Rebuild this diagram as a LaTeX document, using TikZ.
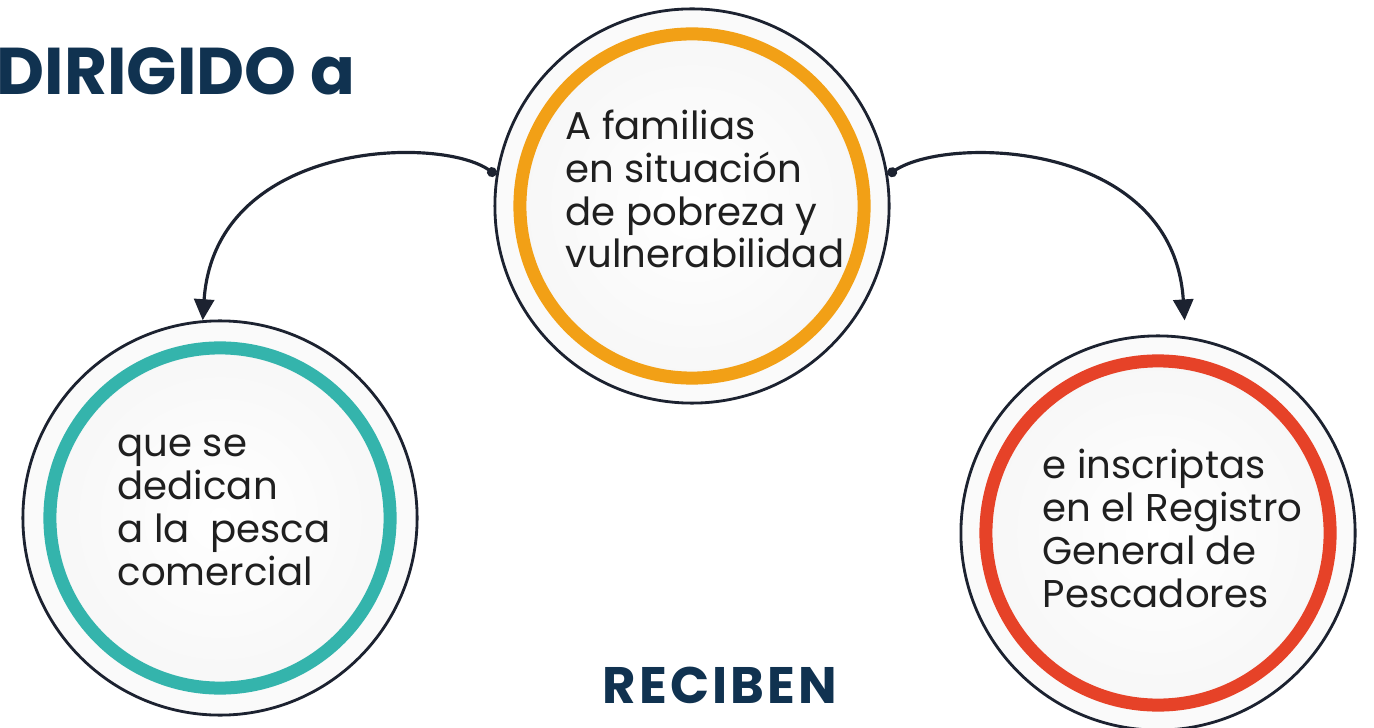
\documentclass[tikz,border=0pt]{standalone}
\usepackage{fontspec}
\setmainfont{Poppins}
\usetikzlibrary{arrows.meta}
\definecolor{navy}{RGB}{16,50,80}
\definecolor{inkline}{RGB}{28,34,48}
\definecolor{ringorange}{RGB}{242,160,22}
\definecolor{ringteal}{RGB}{52,180,172}
\definecolor{ringred}{RGB}{230,66,40}
\begin{document}
\begin{tikzpicture}[x=0.01cm, y=-0.01cm,
  bubble/.style={circle, draw=inkline, line width=0.8pt, fill=black!2, minimum size=3.94cm, inner sep=0pt},
  ring/.style={line width=0.13cm},
  txt/.style={align=left, anchor=base west, inner sep=0pt, text=black!88, font=\fontsize{11}{12.2}\selectfont},
  link/.style={line width=0.9pt, draw=inkline, {Circle[length=2.8pt]}-{Triangle[width=0.2cm,length=0.21cm]}},
  heading/.style={inner sep=0pt, anchor=base west, text=navy}]
\useasboundingbox (0,0) rectangle (1374,728);

\node[heading, font=\fontsize{18.8}{20}\selectfont\bfseries] (dirigido) at (-4,95) {DIRIGIDO a};
\node[heading, font=\fontsize{14.6}{15}\selectfont\bfseries\addfontfeature{LetterSpace=6}] (reciben) at (602,703) {RECIBEN};

\node[bubble] (fam) at (692,206) {};
\node[bubble] (pesca) at (220,518) {};
\node[bubble] (rgp) at (1158,533) {};

\shade[inner color=white, outer color=black!3] (fam.center) circle (1.66cm);
\shade[inner color=white, outer color=black!3] (pesca.center) circle (1.66cm);
\shade[inner color=white, outer color=black!3] (rgp.center) circle (1.66cm);

\draw[ring, ringorange] (fam.center) circle (1.72cm);
\draw[ring, ringteal] (pesca.center) circle (1.70cm);
\draw[ring, ringred] (rgp.center) circle (1.72cm);

\node[txt] (famtxt) at (565,268) {A familias\\en situación\\de pobreza y\\vulnerabilidad};
\node[txt] (pescatxt) at (117,585) {que se\\dedican\\a la~ pesca\\comercial};
\node[txt] (rgptxt) at (1042,607) {e inscriptas\\en el Registro\\General de\\Pescadores};

\draw[link] (fam.171) .. controls (440,135) and (215,140) .. (pesca.95);
\draw[link, shorten >=0.16cm] (fam.9) .. controls (948,135) and (1173,140) .. (rgp.82);

\end{tikzpicture}
\end{document}
